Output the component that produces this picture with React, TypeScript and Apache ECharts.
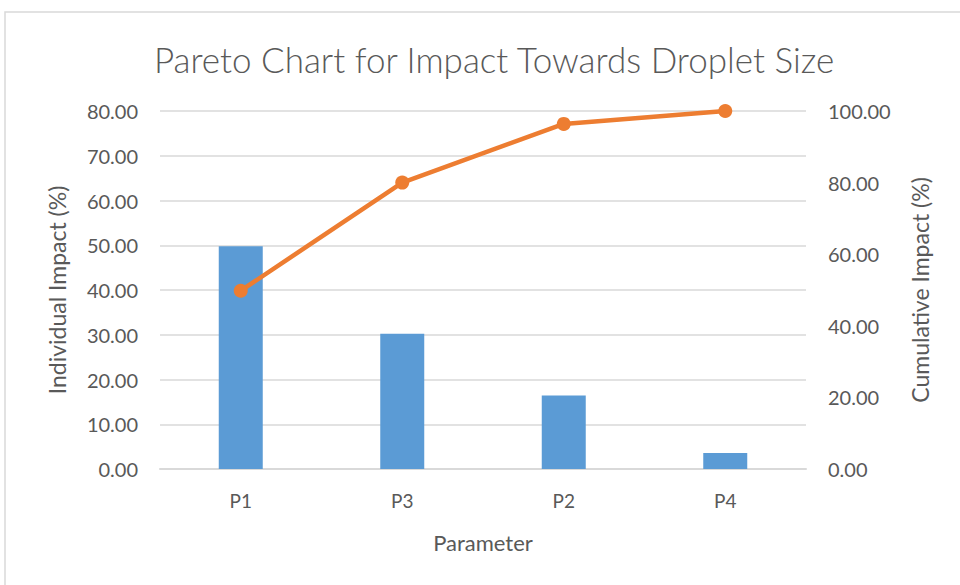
import React, { useEffect, useRef } from "react";
import * as echarts from "echarts";

const categories = ["P1", "P3", "P2", "P4"];
const individualImpact = [49.8, 30.2, 16.4, 3.6];
const cumulativeImpact = [49.8, 80.0, 96.4, 100.0];
const leftTicks = { min: 0, max: 80, interval: 10 };
const rightTicks = { min: 0, max: 100, interval: 20 };

const FONT = "Lato";
const TXT = "#595959";

export default function App() {
  const ref = useRef<HTMLDivElement>(null);
  useEffect(() => {
    if (!ref.current) return;
    const chart = echarts.init(ref.current, undefined, { renderer: "svg" });
    chart.setOption({
      animation: false,
      backgroundColor: "#ffffff",
      textStyle: { fontFamily: FONT },
      title: {
        text: "Pareto Chart for Impact Towards Droplet Size",
        left: 489,
        textAlign: "center",
        top: 36,
        textStyle: { fontFamily: FONT, fontSize: 35, fontWeight: 300, color: TXT },
      },
      graphic: [
        {
          type: "rect",
          shape: { x: 5, y: 12, width: 1000, height: 600 },
          style: { fill: "none", stroke: "#d9d9d9", lineWidth: 1.5 },
          silent: true,
        },
      ],
      grid: { left: 160, right: 154, top: 111, bottom: 116 },
      xAxis: {
        type: "category",
        data: categories,
        name: "Parameter",
        nameLocation: "middle",
        nameGap: 62,
        nameTextStyle: { fontSize: 22, color: TXT, fontFamily: FONT },
        axisLine: { lineStyle: { color: "#d9d9d9", width: 2 } },
        axisTick: { show: false },
        axisLabel: { fontSize: 19, color: TXT, margin: 22, fontFamily: FONT },
      },
      yAxis: [
        {
          type: "value",
          ...leftTicks,
          name: "Individual Impact (%)",
          nameLocation: "middle",
          nameGap: 92,
          nameTextStyle: { fontSize: 23, color: TXT, fontFamily: FONT },
          axisLabel: { fontSize: 20, color: TXT, margin: 22, formatter: (v: number) => v.toFixed(2), fontFamily: FONT },
          splitLine: { lineStyle: { color: "#d9d9d9", width: 1.5 } },
          axisLine: { show: false },
          axisTick: { show: false },
        },
        {
          type: "value",
          ...rightTicks,
          name: "Cumulative Impact (%)",
          nameLocation: "middle",
          nameGap: 102,
          nameTextStyle: { fontSize: 23, color: TXT, fontFamily: FONT },
          axisLabel: { fontSize: 20, color: TXT, margin: 22, formatter: (v: number) => v.toFixed(2), fontFamily: FONT },
          splitLine: { show: false },
          axisLine: { show: false },
          axisTick: { show: false },
        },
      ],
      series: [
        {
          type: "bar",
          data: individualImpact,
          yAxisIndex: 0,
          barWidth: 44,
          itemStyle: { color: "#5B9BD5" },
        },
        {
          type: "line",
          data: cumulativeImpact,
          yAxisIndex: 1,
          symbol: "circle",
          symbolSize: 14,
          lineStyle: { color: "#ED7D31", width: 4.5 },
          itemStyle: { color: "#ED7D31" },
        },
      ],
    });
    return () => chart.dispose();
  }, []);
  return (
    <div
      ref={ref}
      style={{ position: "fixed", left: 0, top: 0, width: 960, height: 585 }}
    />
  );
}
